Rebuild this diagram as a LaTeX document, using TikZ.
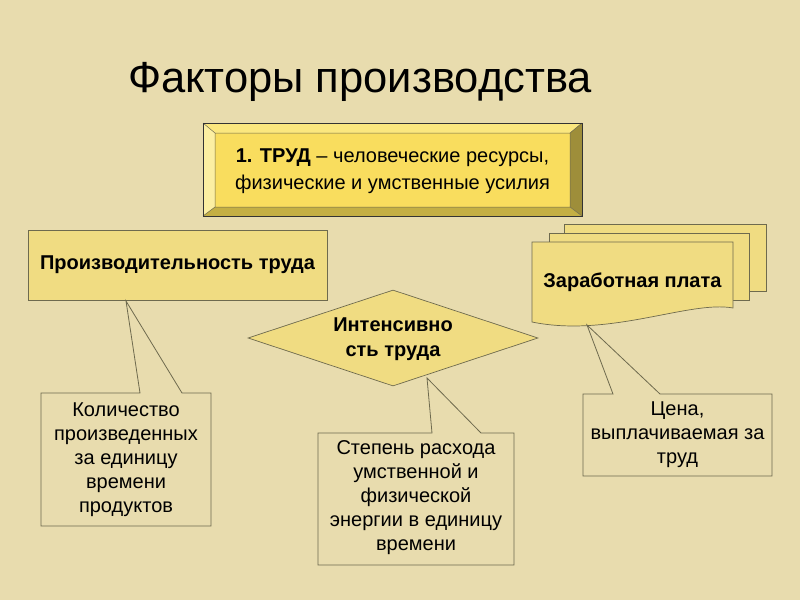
\documentclass[tikz,border=0pt]{standalone}
\usepackage{fontspec}
\setmainfont{Liberation Sans}
\usetikzlibrary{shapes.geometric}
\definecolor{bg}{HTML}{E8DCAE}
\definecolor{boxfill}{HTML}{F0DC82}
\definecolor{edge}{HTML}{6E6A4E}
\definecolor{face}{HTML}{F9DD5E}
\definecolor{bvtop}{HTML}{FBE77E}
\definecolor{bvleft}{HTML}{FCEFA2}
\definecolor{bvright}{HTML}{9E8E3A}
\definecolor{bvbot}{HTML}{C4AF44}
\begin{document}
\begin{tikzpicture}[x=1pt,y=-1pt,
  ybox/.style={draw=edge, line width=0.7pt, fill=boxfill, inner sep=0pt},
  btext/.style={font=\fontsize{20}{25}\selectfont\bfseries, align=center, text=black},
  ctext/.style={font=\fontsize{20}{24}\selectfont, align=center, text=black},
  cline/.style={draw=edge, line width=0.8pt, line join=miter}]
\fill[bg] (0,0) rectangle (800,600);
\useasboundingbox (0,0) rectangle (800,600);

% title
\node[font=\fontsize{43.5}{50}\selectfont, anchor=base, inner sep=0pt] (title) at (360,92) {Факторы производства};

% bevelled box
\fill[bvtop] (203,123) -- (582,123) -- (570,133) -- (215,133) -- cycle;
\fill[bvleft] (203,123) -- (215,133) -- (215,207) -- (203,216) -- cycle;
\fill[bvright] (582,123) -- (582,216) -- (570,207) -- (570,133) -- cycle;
\fill[bvbot] (203,216) -- (215,207) -- (570,207) -- (582,216) -- cycle;
\fill[face] (215,133) rectangle (570,207);
\draw[edge, line width=0.5pt] (215,133) rectangle (570,207)
  (203,123) -- (215,133) (582,123) -- (570,133) (203,216) -- (215,207) (582,216) -- (570,207);
\draw[black!80, line width=0.8pt] (203,123) rectangle (582,216);
\node[font=\fontsize{20}{27}\selectfont, align=center, text=black] (trud) at (392.5,171)
  {\textbf{1. ТРУД} – человеческие ресурсы,\\физические и умственные усилия};

% productivity
\node[ybox, minimum width=299, minimum height=70] (prod) at (177.5,265) {};
\node[btext] (prodt) at (prod.center) {Производительность труда};

% diamond
\node[diamond, draw=edge, line width=0.7pt, fill=boxfill, minimum width=290, minimum height=96, inner sep=0pt] (intens) at (393,338) {};
\node[btext] (intenst) at (393,339) {Интенсивно\\сть труда};

% document stack
\draw[edge, line width=0.7pt, fill=boxfill] (564,224) rectangle (766,291);
\draw[edge, line width=0.7pt, fill=boxfill] (549,233) rectangle (749,300);
\draw[edge, line width=0.7pt, fill=boxfill] (532,242) -- (733,242) -- (733,308)
  .. controls (690,300) and (610,338) .. (532,322) -- cycle;
\node[btext] (wage) at (632.5,282) {Заработная плата};

% callout 1
\coordinate (t1) at (126,301);
\draw[cline, fill=bg] (41,393) -- (140,393) -- (t1) -- (182,393) -- (211,393) -- (211,526) -- (41,526) -- cycle;
\node[ctext] (c1) at (126,459.5) {Количество\\произведенных\\за единицу\\времени\\продуктов};

% callout 2
\coordinate (t2) at (427,378);
\draw[cline, fill=bg] (318,433) -- (432,433) -- (t2) -- (481,433) -- (514,433) -- (514,565) -- (318,565) -- cycle;
\node[ctext] (c2) at (416,498) {Степень расхода\\умственной и\\физической\\энергии в единицу\\времени};

% callout 3
\coordinate (t3) at (587,325);
\draw[cline, fill=bg] (583,394) -- (613,394) -- (t3) -- (660,394) -- (772,394) -- (772,476) -- (583,476) -- cycle;
\node[ctext] (c3) at (677.5,435) {Цена,\\выплачиваемая за\\труд};
\end{tikzpicture}
\end{document}
